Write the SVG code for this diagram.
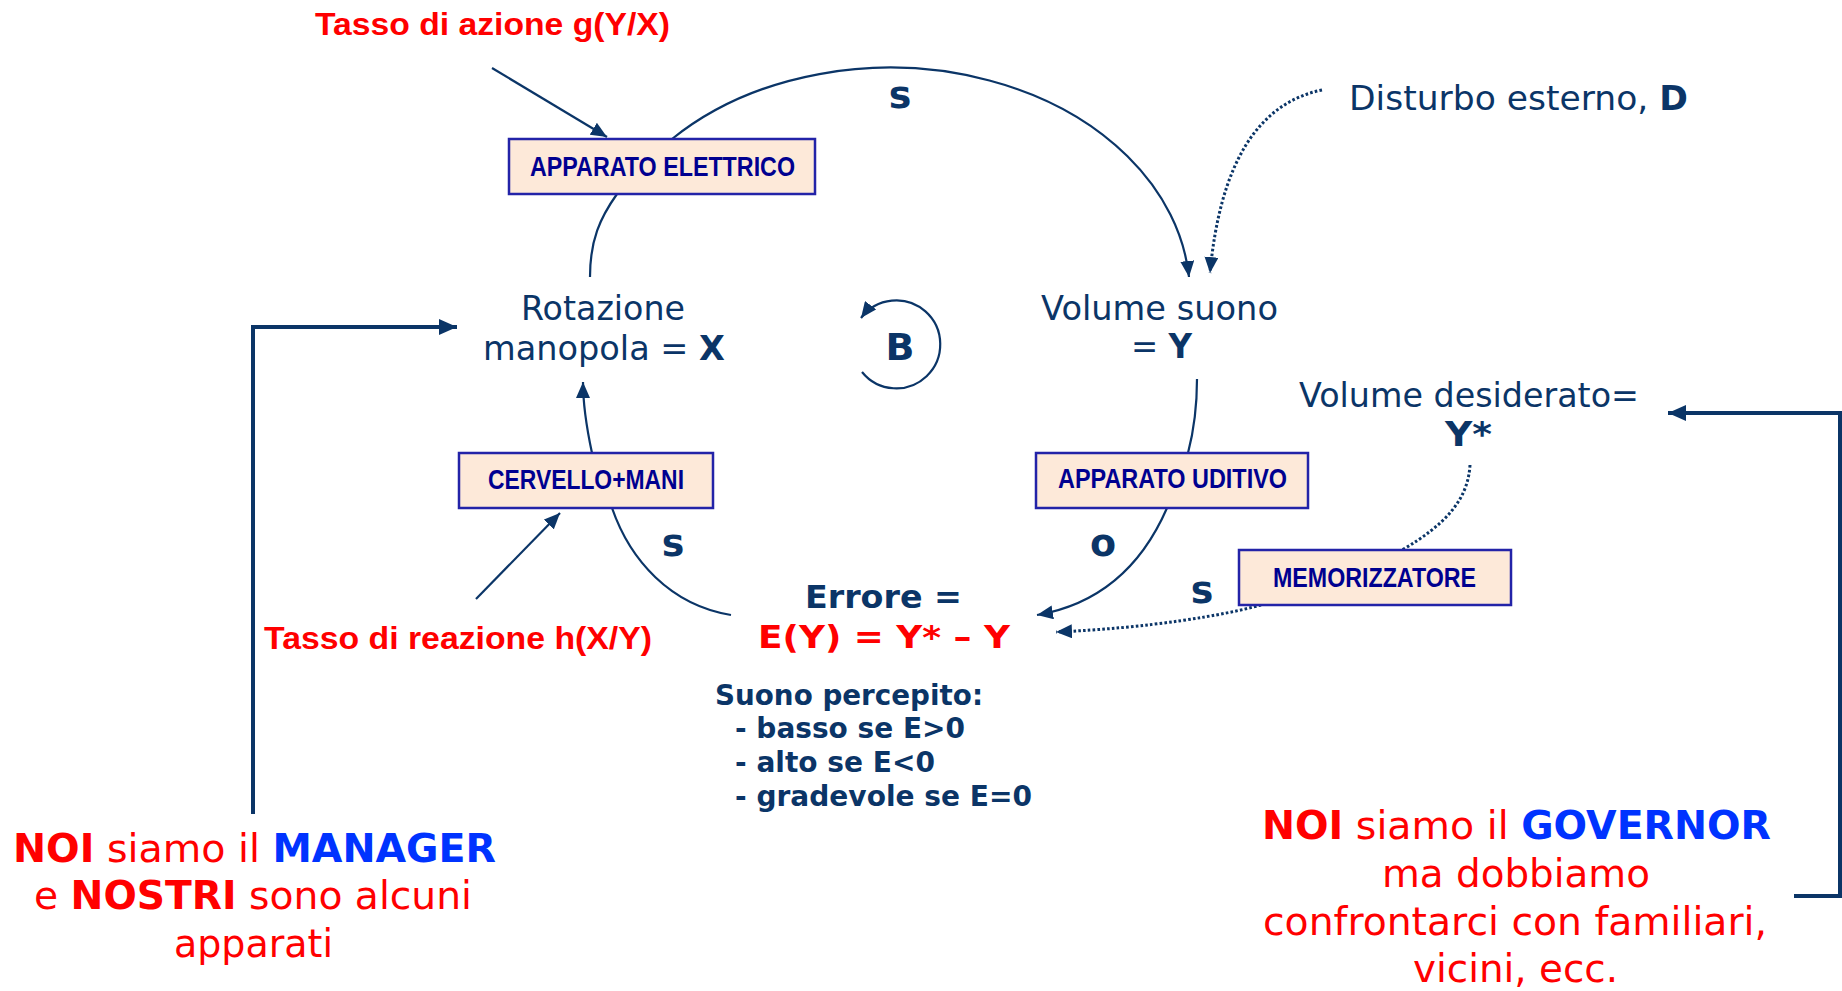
<svg xmlns="http://www.w3.org/2000/svg" width="1842" height="991" viewBox="0 0 1842 991">
  <style>
    .ln { fill: none; stroke: #0B3567; stroke-width: 2.2; }
    .dot { fill: none; stroke: #0B3567; stroke-width: 3; stroke-dasharray: 2.6 2.2; }
    .thick { fill: none; stroke: #0B3567; stroke-width: 4; }
    .box { fill: #FDE9D9; stroke: #2323A8; stroke-width: 2.5; }
    .boxt { font-family: "Liberation Sans Narrow", "Liberation Sans", Arial, sans-serif; font-weight: bold; font-size: 27px; fill: #000090; }
    .lbl { font-family: "Liberation Sans Narrow", "Liberation Sans", Arial, sans-serif; font-weight: bold; font-size: 32px; fill: #FF0000; }
    .var { font-family: "DejaVu Sans", Verdana, sans-serif; font-size: 33px; fill: #0B3567; }
    .sign { font-family: "DejaVu Sans", Verdana, sans-serif; font-weight: bold; font-size: 38px; fill: #0B3567; text-anchor: middle; }
    .err { font-family: "DejaVu Sans", Verdana, sans-serif; font-weight: bold; font-size: 32px; }
    .note { font-family: "DejaVu Sans", Verdana, sans-serif; font-weight: bold; font-size: 29px; fill: #0B3567; }
    .msg { font-family: "DejaVu Sans", Verdana, sans-serif; font-size: 39px; fill: #FF0000; }
    .b { font-weight: bold; }
    .blue { fill: #0033FF; }
  </style>
  <defs>
    <marker id="ah" viewBox="0 0 16 14" refX="16" refY="7" markerWidth="16" markerHeight="14" markerUnits="userSpaceOnUse" orient="auto">
      <path d="M0,0 L16,7 L0,14 z" fill="#0B3567"/>
    </marker>
    <marker id="ahl" viewBox="0 0 18 16" refX="18" refY="8" markerWidth="18" markerHeight="16" markerUnits="userSpaceOnUse" orient="auto">
      <path d="M0,0 L18,8 L0,16 z" fill="#0B3567"/>
    </marker>
  </defs>

  <rect width="1842" height="991" fill="#FFFFFF"/>

  <!-- connectors -->
  <g id="connectors">
    <!-- action rate into the electric device -->
    <path class="ln" d="M492,68 L607,137" marker-end="url(#ah)"/>
    <!-- electric device -> sound volume (s) -->
    <path class="ln" d="M672,139 A 300 228 0 0 1 1189,277" marker-end="url(#ah)"/>
    <!-- knob rotation -> electric device -->
    <path class="ln" d="M590,277 C 590,240 600,218 617,194"/>
    <!-- external disturbance -> sound volume -->
    <path class="dot" d="M1322,90 Q 1225,110 1210,273" marker-end="url(#ah)"/>
    <!-- sound volume -> hearing -->
    <path class="ln" d="M1197,379 C 1197,410 1194,430 1188,453"/>
    <!-- hearing -> error (o) -->
    <path class="ln" d="M1167,508 C 1140,570 1095,605 1037,615" marker-end="url(#ah)"/>
    <!-- desired volume -> memory -->
    <path class="dot" d="M1470,465 C 1468,500 1445,525 1402,550"/>
    <!-- memory -> error (s) -->
    <path class="dot" d="M1261,605 C 1225,615 1150,628 1056,632" marker-end="url(#ah)"/>
    <!-- error -> brain+hands (s) -->
    <path class="ln" d="M731,615 C 670,605 630,560 612,508"/>
    <!-- brain+hands -> knob rotation -->
    <path class="ln" d="M592,453 C 586,425 583,405 583,382" marker-end="url(#ah)"/>
    <!-- reaction rate into brain+hands -->
    <path class="ln" d="M476,599 L560,513" marker-end="url(#ah)"/>
    <!-- balancing loop marker -->
    <path class="ln" d="M862,372 A 44 44 0 1 0 861,318" marker-end="url(#ah)"/>
    <!-- manager feedback -->
    <path class="thick" d="M253,814 L253,327 L457,327" marker-end="url(#ahl)"/>
    <!-- governor feedback -->
    <path class="thick" d="M1794,896 L1840,896 L1840,413 L1668,413" marker-end="url(#ahl)"/>
  </g>

  <!-- polarity labels -->
  <g id="polarity">
    <text class="sign" x="900" y="108">s</text>
    <text class="sign" x="673" y="556">s</text>
    <text class="sign" x="1103" y="556">o</text>
    <text class="sign" x="1202" y="603">s</text>
    <text class="sign" x="900" y="360" font-size="41">B</text>
  </g>

  <g id="rate-action">
    <text class="lbl" x="315" y="35" textLength="355" lengthAdjust="spacingAndGlyphs">Tasso di azione g(Y/X)</text>
  </g>
  <g id="rate-reaction">
    <text class="lbl" x="264" y="649" textLength="388" lengthAdjust="spacingAndGlyphs">Tasso di reazione h(X/Y)</text>
  </g>

  <g id="n-elettrico">
    <rect class="box" x="509" y="139" width="306" height="55"/>
    <text class="boxt" x="530" y="176" textLength="265" lengthAdjust="spacingAndGlyphs">APPARATO ELETTRICO</text>
  </g>
  <g id="n-cervello">
    <rect class="box" x="459" y="453" width="254" height="55"/>
    <text class="boxt" x="488" y="489" textLength="196" lengthAdjust="spacingAndGlyphs">CERVELLO+MANI</text>
  </g>
  <g id="n-uditivo">
    <rect class="box" x="1036" y="453" width="272" height="55"/>
    <text class="boxt" x="1058" y="488" textLength="229" lengthAdjust="spacingAndGlyphs">APPARATO UDITIVO</text>
  </g>
  <g id="n-memo">
    <rect class="box" x="1239" y="550" width="272" height="55"/>
    <text class="boxt" x="1273" y="587" textLength="203" lengthAdjust="spacingAndGlyphs">MEMORIZZATORE</text>
  </g>

  <g id="n-rotazione">
    <text class="var" x="521" y="320" textLength="164" lengthAdjust="spacingAndGlyphs">Rotazione</text>
    <text class="var" x="483" y="360" textLength="242" lengthAdjust="spacingAndGlyphs">manopola = <tspan class="b">X</tspan></text>
  </g>
  <g id="n-volume">
    <text class="var" x="1041" y="320" textLength="237" lengthAdjust="spacingAndGlyphs">Volume suono</text>
    <text class="var" x="1131" y="358" textLength="61" lengthAdjust="spacingAndGlyphs">= <tspan class="b">Y</tspan></text>
  </g>
  <g id="n-desiderato">
    <text class="var" x="1299" y="407" textLength="340" lengthAdjust="spacingAndGlyphs">Volume desiderato=</text>
    <text class="var b" x="1445" y="446" textLength="47" lengthAdjust="spacingAndGlyphs">Y*</text>
  </g>
  <g id="n-disturbo">
    <text class="var" x="1349" y="110" font-size="35" textLength="339" lengthAdjust="spacingAndGlyphs">Disturbo esterno, <tspan class="b">D</tspan></text>
  </g>

  <g id="n-errore">
    <text class="err" x="805" y="608" fill="#0B3567" textLength="157" lengthAdjust="spacingAndGlyphs">Errore =</text>
    <text class="err" x="758" y="648" fill="#FF0000" textLength="252" lengthAdjust="spacingAndGlyphs">E(Y) = Y* – Y</text>
    <text class="note" x="715" y="705" textLength="268" lengthAdjust="spacingAndGlyphs">Suono percepito:</text>
    <text class="note" x="735" y="738" textLength="230" lengthAdjust="spacingAndGlyphs">- basso se E&gt;0</text>
    <text class="note" x="735" y="772" textLength="200" lengthAdjust="spacingAndGlyphs">- alto se E&lt;0</text>
    <text class="note" x="735" y="806" textLength="297" lengthAdjust="spacingAndGlyphs">- gradevole se E=0</text>
  </g>

  <g id="manager-note">
    <text class="msg" x="13" y="862" textLength="483" lengthAdjust="spacingAndGlyphs"><tspan class="b">NOI</tspan> siamo il <tspan class="b blue">MANAGER</tspan></text>
    <text class="msg" x="34" y="909" textLength="438" lengthAdjust="spacingAndGlyphs">e <tspan class="b">NOSTRI</tspan> sono alcuni</text>
    <text class="msg" x="174" y="957" textLength="159" lengthAdjust="spacingAndGlyphs">apparati</text>
  </g>

  <g id="governor-note">
    <text class="msg" x="1262" y="839" textLength="509" lengthAdjust="spacingAndGlyphs"><tspan class="b">NOI</tspan> siamo il <tspan class="b blue">GOVERNOR</tspan></text>
    <text class="msg" x="1382" y="887" textLength="268" lengthAdjust="spacingAndGlyphs">ma dobbiamo</text>
    <text class="msg" x="1263" y="935" textLength="504" lengthAdjust="spacingAndGlyphs">confrontarci con familiari,</text>
    <text class="msg" x="1413" y="982" textLength="205" lengthAdjust="spacingAndGlyphs">vicini, ecc.</text>
  </g>
</svg>
